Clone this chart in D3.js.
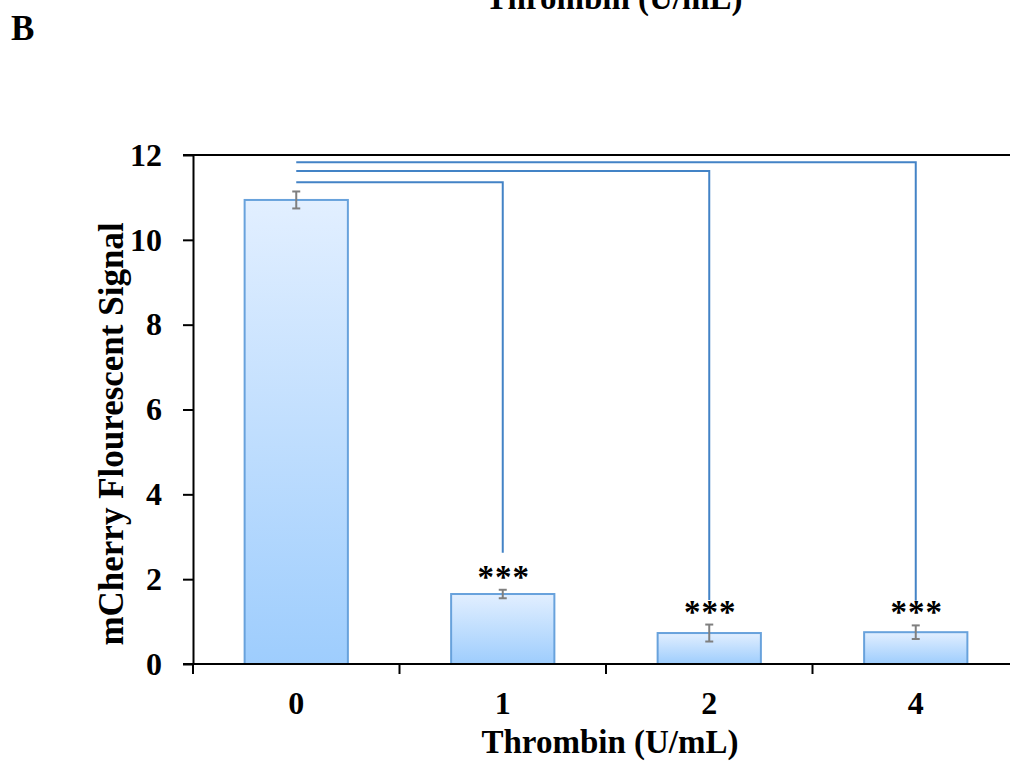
<!DOCTYPE html>
<html>
<head>
<meta charset="utf-8">
<script src="https://cdn.jsdelivr.net/npm/d3@7"></script>
<style>
  body { margin: 0; background: #fff; }
  svg { display: block; font-family: 'Liberation Serif', 'Times New Roman', serif; font-weight: bold; }
</style>
</head>
<body>
<div id="chart"></div>
<script>
const categories = ['0', '1', '2', '4'];
const values = [10.94, 1.65, 0.73, 0.75];
const errors = [0.2, 0.1, 0.2, 0.16];
const yTicks = [0, 2, 4, 6, 8, 10, 12];

// significance brackets: from bar "0" to each target
const bracketTargets = ['1', '2', '4'];
const bracketLevels = [11.36, 11.62, 11.83];
const bracketDrops = [2.62, 1.51, 1.49];
const stars = ['***', '***', '***'];

const width = 1010, height = 765;
const margin = { top: 155, right: -9, bottom: 101, left: 193 };

const svg = d3.select('#chart')
  .append('svg')
  .attr('width', width)
  .attr('height', height);

const defs = svg.append('defs');
const grad = defs.append('linearGradient')
  .attr('id', 'barGrad')
  .attr('x1', 0).attr('y1', 0).attr('x2', 0).attr('y2', 1);
grad.append('stop').attr('offset', '0%').attr('stop-color', '#e2efff');
grad.append('stop').attr('offset', '100%').attr('stop-color', '#9ecdfd');

const x = d3.scaleBand()
  .domain(categories)
  .range([margin.left, width - margin.right])
  .paddingInner(0.5)
  .paddingOuter(0.25);

const y = d3.scaleLinear()
  .domain([0, 12])
  .range([height - margin.bottom, margin.top]);

const cx = c => x(c) + x.bandwidth() / 2;

// bars
svg.selectAll('.bar')
  .data(values)
  .enter()
  .append('rect')
  .attr('class', 'bar')
  .attr('x', (_, i) => x(categories[i]))
  .attr('y', d => y(d))
  .attr('width', x.bandwidth())
  .attr('height', d => y(0) - y(d))
  .attr('fill', 'url(#barGrad)')
  .attr('stroke', '#68a2dc')
  .attr('stroke-width', 2);

// error bars
const err = svg.append('g')
  .attr('stroke', '#7f7f7f')
  .attr('stroke-width', 2);
values.forEach((v, i) => {
  const c = cx(categories[i]);
  err.append('line')
    .attr('x1', c).attr('x2', c)
    .attr('y1', y(v - errors[i])).attr('y2', y(v + errors[i]));
  [v - errors[i], v + errors[i]].forEach(e => {
    err.append('line')
      .attr('x1', c - 4).attr('x2', c + 4)
      .attr('y1', y(e)).attr('y2', y(e));
  });
});

// axes
const yAxis = svg.append('g')
  .attr('transform', `translate(${margin.left},0)`)
  .call(d3.axisLeft(y).tickValues(yTicks).tickSize(10).tickPadding(21).tickSizeOuter(0))
  .attr('font-family', 'Liberation Serif, serif')
  .attr('font-weight', 'bold')
  .attr('font-size', 32);
yAxis.select('.domain').attr('stroke-width', 2);
yAxis.selectAll('.tick line').attr('stroke-width', 2);
yAxis.selectAll('.tick text').attr('fill', '#000');

// top frame line at 12
svg.append('line')
  .attr('x1', margin.left - 10).attr('x2', width)
  .attr('y1', y(12)).attr('y2', y(12))
  .attr('stroke', '#000').attr('stroke-width', 2);

const xAxis = svg.append('g')
  .attr('transform', `translate(0,${y(0)})`)
  .call(d3.axisBottom(x).tickSize(0).tickPadding(27))
  .attr('font-family', 'Liberation Serif, serif')
  .attr('font-weight', 'bold')
  .attr('font-size', 32);
xAxis.select('.domain').remove();
xAxis.selectAll('.tick text').attr('fill', '#000');

svg.append('line')
  .attr('x1', margin.left - 10).attr('x2', width)
  .attr('y1', y(0)).attr('y2', y(0))
  .attr('stroke', '#000').attr('stroke-width', 2);

// tick marks between categories
const step = x.step();
svg.selectAll('.xsep')
  .data(categories)
  .enter()
  .append('line')
  .attr('x1', d => cx(d) - step / 2)
  .attr('x2', d => cx(d) - step / 2)
  .attr('y1', y(0))
  .attr('y2', y(0) + 10)
  .attr('stroke', '#000')
  .attr('stroke-width', 2);

// significance brackets
const br = svg.append('g')
  .attr('fill', 'none')
  .attr('stroke', '#4383c6')
  .attr('stroke-width', 2);
bracketTargets.forEach((t, i) => {
  br.append('path')
    .attr('d', `M${cx(categories[0])},${y(bracketLevels[i])}H${cx(t)}V${y(bracketDrops[i])}`);
});

bracketTargets.forEach((t, i) => {
  const idx = categories.indexOf(t);
  svg.append('text')
    .attr('x', cx(t) + 1)
    .attr('y', y(values[idx] + errors[idx]) - 2)
    .attr('text-anchor', 'middle')
    .attr('font-size', '33px')
    .attr('letter-spacing', '1px')
    .text(stars[i]);
});

// titles
svg.append('text')
  .attr('x', 610)
  .attr('y', 753)
  .attr('text-anchor', 'middle')
  .attr('font-size', '33px')
  .text('Thrombin (U/mL)');

svg.append('text')
  .attr('transform', `translate(123,434) rotate(-90)`)
  .attr('text-anchor', 'middle')
  .attr('font-size', '35px')
  .text('mCherry Flourescent Signal');

svg.append('text')
  .attr('x', 614)
  .attr('y', 9)
  .attr('text-anchor', 'middle')
  .attr('font-size', '33px')
  .text('Thrombin (U/mL)');

svg.append('text')
  .attr('x', 11)
  .attr('y', 40)
  .attr('font-size', '35px')
  .text('B');
</script>
</body>
</html>
